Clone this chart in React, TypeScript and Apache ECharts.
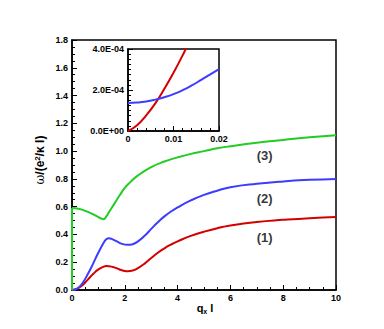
import React, { useEffect, useRef } from "react";
import * as echarts from "echarts";

// Main panel data (q_x l vs ω/(e²/κ l))
const q1 = [0, 0.2, 0.4, 0.6, 0.8, 1.0, 1.2, 1.3, 1.4, 1.6, 1.8, 2.0, 2.1, 2.3, 2.5, 2.75, 3.0, 3.25, 3.5, 3.75, 4.0, 4.5, 5, 5.5, 6, 7, 8, 9, 10];
const branch1 = [0, 0.01, 0.035, 0.075, 0.115, 0.148, 0.168, 0.172, 0.171, 0.163, 0.148, 0.137, 0.135, 0.14, 0.158, 0.19, 0.23, 0.268, 0.3, 0.327, 0.35, 0.39, 0.42, 0.445, 0.465, 0.49, 0.505, 0.517, 0.525];
const q2 = [0, 0.2, 0.4, 0.6, 0.8, 1.0, 1.2, 1.3, 1.4, 1.5, 1.7, 1.9, 2.1, 2.3, 2.5, 2.75, 3.0, 3.25, 3.5, 3.75, 4.0, 4.5, 5, 5.5, 6, 7, 8, 9, 10];
const branch2 = [0, 0.01, 0.05, 0.115, 0.19, 0.27, 0.34, 0.365, 0.372, 0.368, 0.35, 0.332, 0.325, 0.33, 0.35, 0.39, 0.44, 0.488, 0.53, 0.565, 0.595, 0.645, 0.685, 0.715, 0.74, 0.765, 0.782, 0.793, 0.8];
const q3 = [0, 0.25, 0.5, 0.75, 1.0, 1.1, 1.2, 1.3, 1.4, 1.6, 1.8, 2.0, 2.2, 2.5, 3.0, 3.5, 4.0, 4.5, 5, 5.5, 6, 7, 8, 9, 10];
const branch3 = [0.59, 0.585, 0.57, 0.55, 0.525, 0.515, 0.51, 0.53, 0.56, 0.62, 0.68, 0.735, 0.775, 0.825, 0.885, 0.925, 0.955, 0.98, 1.0, 1.02, 1.035, 1.06, 1.08, 1.1, 1.115];
// vertical start of branch (3) at q = 0
const q3Stem = [0, 0];
const branch3Stem = [0, 0.59];

// Inset data
const qInset = [0, 0.002, 0.004, 0.006, 0.008, 0.01, 0.012, 0.014, 0.016, 0.018, 0.02];
const insetRed = [0, 0.28e-4, 0.76e-4, 1.35e-4, 2.06e-4, 2.84e-4, 3.69e-4, 4.6e-4, 5.6e-4, 6.6e-4, 7.7e-4];
const insetBlue = [1.37e-4, 1.39e-4, 1.44e-4, 1.53e-4, 1.65e-4, 1.8e-4, 1.99e-4, 2.22e-4, 2.48e-4, 2.75e-4, 3.02e-4];

const branchLabels = ["(1)", "(2)", "(3)"];
const labelPos: [number, number][] = [[7.3, 0.38], [7.3, 0.66], [7.3, 0.97]];

const RED = "#d40000";
const BLUE = "#3c3cff";
const GREEN = "#22cc22";
const FONT = "Liberation Sans";

const zip = (xs: number[], ys: number[]) => xs.map((x, i) => [x, ys[i]]);

export default function App() {
  const ref = useRef<HTMLDivElement>(null);
  useEffect(() => {
    const chart = echarts.init(ref.current!, null, { renderer: "svg" });
    const tickLabel = { color: "#000", fontFamily: FONT, fontWeight: "bold" as const, fontSize: 9 };
    const lineCommon = { smooth: 0.5, showSymbol: false, clip: true };
    chart.setOption({
      animation: false,
      grid: [
        { left: 72, top: 40, width: 264, height: 250, show: true, borderColor: "#000", borderWidth: 1.5, backgroundColor: "transparent" },
        { left: 128, top: 49, width: 91, height: 82, show: true, borderColor: "#000", borderWidth: 1.5, backgroundColor: "#fff", z: 5 },
      ],
      xAxis: [
        {
          type: "value", gridIndex: 0, min: 0, max: 10, interval: 2,
          axisLine: { lineStyle: { color: "#000", width: 1.5 } },
          axisTick: { inside: true, length: 5, lineStyle: { color: "#000" } },
          minorTick: { show: true, splitNumber: 4, length: 3, lineStyle: { color: "#000" } },
          splitLine: { show: false },
          axisLabel: { ...tickLabel, margin: 3 },
        },
        {
          type: "value", gridIndex: 1, min: 0, max: 0.02, interval: 0.01, z: 6,
          axisLine: { lineStyle: { color: "#000", width: 1.5 } },
          axisTick: { inside: true, length: 5, lineStyle: { color: "#000" } },
          minorTick: { show: true, splitNumber: 5, length: 3, lineStyle: { color: "#000" } },
          splitLine: { show: false },
          axisLabel: { ...tickLabel, margin: 3, formatter: (v: number) => (v === 0 ? "0" : v.toFixed(2)) },
        },
      ],
      yAxis: [
        {
          type: "value", gridIndex: 0, min: 0, max: 1.8, interval: 0.2,
          axisLine: { lineStyle: { color: "#000", width: 1.5 } },
          axisTick: { inside: true, length: 5, lineStyle: { color: "#000" } },
          minorTick: { show: true, splitNumber: 4, length: 3, lineStyle: { color: "#000" } },
          splitLine: { show: false },
          axisLabel: { ...tickLabel, margin: 4, formatter: (v: number) => v.toFixed(1) },
        },
        {
          type: "value", gridIndex: 1, min: 0, max: 4e-4, interval: 2e-4, z: 6,
          axisLine: { lineStyle: { color: "#000", width: 1.5 } },
          axisTick: { inside: true, length: 5, lineStyle: { color: "#000" } },
          minorTick: { show: true, splitNumber: 8, length: 3, lineStyle: { color: "#000" } },
          splitLine: { show: false },
          axisLabel: {
            ...tickLabel, margin: 4,
            formatter: (v: number) => (v === 0 ? "0.0E+00" : (v / 1e-4).toFixed(1) + "E-04"),
          },
        },
      ],
      series: [
        { type: "line", xAxisIndex: 0, yAxisIndex: 0, data: zip(q1, branch1), ...lineCommon, lineStyle: { color: RED, width: 2 } },
        { type: "line", xAxisIndex: 0, yAxisIndex: 0, data: zip(q2, branch2), ...lineCommon, lineStyle: { color: BLUE, width: 2 } },
        { type: "line", xAxisIndex: 0, yAxisIndex: 0, data: zip(q3, branch3), ...lineCommon, lineStyle: { color: GREEN, width: 2 } },
        { type: "line", xAxisIndex: 0, yAxisIndex: 0, data: zip(q3Stem, branch3Stem), showSymbol: false, smooth: false, lineStyle: { color: GREEN, width: 2 } },
        {
          type: "scatter", xAxisIndex: 0, yAxisIndex: 0, symbolSize: 0,
          data: labelPos.map((p, i) => ({ value: p, label: { show: true, formatter: branchLabels[i], position: "inside", color: "#000", fontFamily: FONT, fontWeight: "bold", fontSize: 13 } })),
        },
        { type: "line", xAxisIndex: 1, yAxisIndex: 1, z: 7, data: zip(qInset, insetRed), ...lineCommon, lineStyle: { color: RED, width: 2 } },
        { type: "line", xAxisIndex: 1, yAxisIndex: 1, z: 7, data: zip(qInset, insetBlue), ...lineCommon, lineStyle: { color: BLUE, width: 2 } },
      ],
      graphic: [
        {
          type: "text", x: 40, y: 160, rotation: Math.PI / 2,
          style: {
            text: "{w|ω}{n|/(e}{s|2}{n|/κ l)}",
            align: "center", verticalAlign: "middle",
            rich: {
              w: { fontFamily: "DejaVu Serif", fontSize: 12, fill: "#000" },
              n: { fontFamily: FONT, fontWeight: "bold", fontSize: 12, fill: "#000" },
              s: { fontFamily: FONT, fontWeight: "bold", fontSize: 8, fill: "#000", verticalAlign: "top", padding: [0, 0, 6, 0] },
            },
          },
        },
        {
          type: "text", x: 205, y: 308,
          style: {
            text: "{n|q}{b|x}{n| l}",
            align: "center", verticalAlign: "middle",
            rich: {
              n: { fontFamily: FONT, fontWeight: "bold", fontSize: 11, fill: "#000" },
              b: { fontFamily: FONT, fontWeight: "bold", fontSize: 7, fill: "#000", padding: [6, 0, 0, 0] },
            },
          },
        },
      ],
    });
    return () => chart.dispose();
  }, []);
  return <div ref={ref} style={{ position: "absolute", left: 0, top: 0, width: 384, height: 329 }} />;
}
